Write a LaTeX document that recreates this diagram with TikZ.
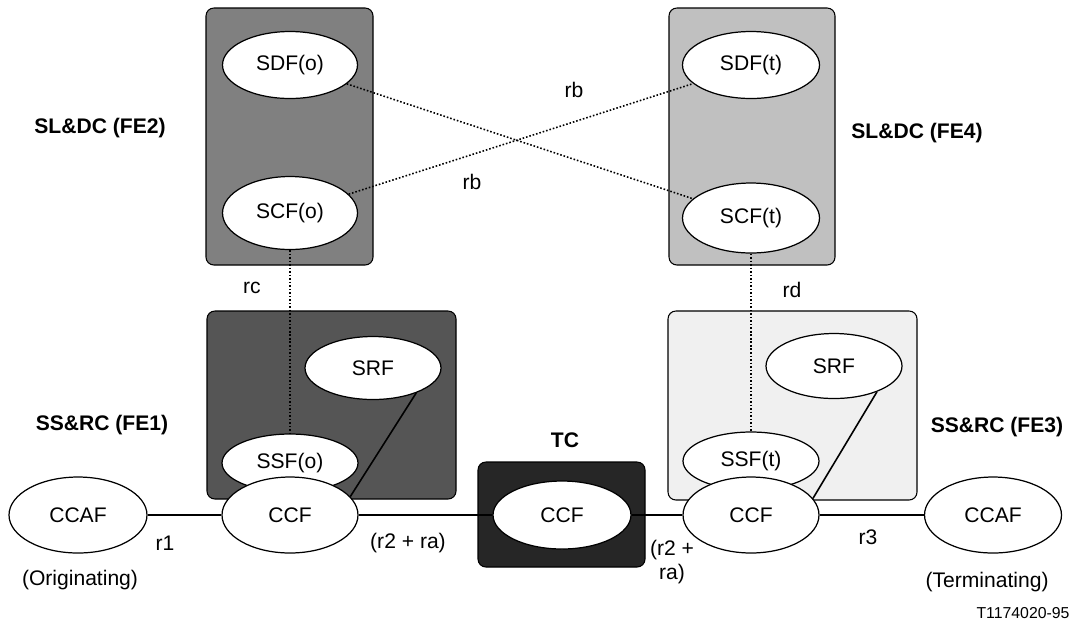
\documentclass[tikz,border=0pt]{standalone}
\usepackage{fontspec}
\setmainfont{Liberation Sans}
\usepackage{tikz}
\usetikzlibrary{shapes.geometric}
\usepackage{xcolor}

\definecolor{slo}{HTML}{808080}
\definecolor{slt}{HTML}{C0C0C0}
\definecolor{sso}{HTML}{555555}
\definecolor{sst}{HTML}{F0F0F0}
\definecolor{tcc}{HTML}{262626}

\tikzset{
  febox/.style={draw=black, line width=0.6pt, rounded corners=4.5pt},
  fn/.style={ellipse, draw, fill=white, line width=0.7pt, inner sep=0pt, font=\fontsize{12}{14}\selectfont},
  lbl/.style={font=\fontsize{12}{14}\selectfont, inner sep=0pt},
  hd/.style={font=\fontsize{12}{14}\selectfont\bfseries, inner sep=0pt},
  refpt/.style={line width=0.9pt, dash pattern=on 0.9pt off 1.1pt},
  link/.style={line width=0.9pt}
}

\begin{document}
\begin{tikzpicture}[x=0.02cm,y=-0.02cm]
 \useasboundingbox (0,0) rectangle (1074,630);
  % entity boxes
  \draw[febox,fill=slo] (206,8) rectangle (373,265);
  \draw[febox,fill=slt] (669,8) rectangle (835,265);
  \draw[febox,fill=sso] (207,311) rectangle (456,499);
  \draw[febox,fill=sst] (668,311) rectangle (917,500);
  \draw[febox,fill=tcc] (478,462) rectangle (645,567);

  % functional entities
  \node[fn,minimum width=2.7cm,minimum height=1.34cm] (SDFo) at (290,65) {SDF(o)};
  \node[fn,minimum width=2.7cm,minimum height=1.46cm] (SCFo) at (290,213) {SCF(o)};
  \node[fn,minimum width=2.74cm,minimum height=1.34cm] (SDFt) at (751,65) {SDF(t)};
  \node[fn,minimum width=2.74cm,minimum height=1.4cm] (SCFt) at (751,218) {SCF(t)};
  \node[fn,minimum width=2.72cm,minimum height=1.26cm] (SRFo) at (373,368) {SRF};
  \node[fn,minimum width=2.72cm,minimum height=1.3cm] (SRFt) at (834,366) {SRF};
  \node[fn,minimum width=2.72cm,minimum height=1.16cm] (SSFo) at (290,463) {SSF(o)};
  \node[fn,minimum width=2.72cm,minimum height=1.16cm] (SSFt) at (751,461) {SSF(t)};
  \node[fn,minimum width=2.72cm,minimum height=1.52cm] (CCFo) at (290,515) {CCF};
  \node[fn,minimum width=2.72cm,minimum height=1.52cm] (CCFt) at (751,515) {CCF};
  \node[fn,minimum width=2.76cm,minimum height=1.36cm] (CCFtc) at (562,515) {CCF};
  \node[fn,minimum width=2.76cm,minimum height=1.52cm] (CCAFo) at (78,515) {CCAF};
  \node[fn,minimum width=2.74cm,minimum height=1.52cm] (CCAFt) at (993,515) {CCAF};

  % relationships
  \draw[refpt] (SDFo) -- (SCFt);
  \draw[refpt] (SCFo) -- (SDFt);
  \draw[refpt] (SCFo) -- (SSFo);
  \draw[refpt] (SCFt) -- (SSFt);
  \draw[link] (SRFo.-30) -- (CCFo.17);
  \draw[link] (SRFt.-31) -- (CCFt.15);
  \draw[link] (CCAFo) -- (CCFo);
  \draw[link] (CCFo) -- (CCFtc);
  \draw[link] (CCFtc) -- (CCFt);
  \draw[link] (CCFt) -- (CCAFt);

  % labels
  \node[lbl] (rbt) at (574,90) {rb};
  \node[lbl] (rbb) at (472,182) {rb};
  \node[lbl] (rc) at (252,288) {rc};
  \node[lbl] (rd) at (792,290) {rd};
  \node[lbl] (rone) at (165,543) {r1};
  \node[lbl] (rtwo) at (408,543) {(r2 + ra)};
  \node[lbl,align=center] (rtwob) at (672,562) {(r2 +\\ra)};
  \node[lbl] (rthree) at (868,537) {r3};
  \node[lbl] (orig) at (80,580) {(Originating)};
  \node[lbl] (term) at (987,582) {(Terminating)};
  \node[font=\fontsize{9}{11}\selectfont,inner sep=0pt] (fig) at (1023,613) {T1174020-95};

  \node[hd] (fetwo) at (100,128) {SL\&DC (FE2)};
  \node[hd] (fefour) at (917,133) {SL\&DC (FE4)};
  \node[hd] (feone) at (102,425) {SS\&RC (FE1)};
  \node[hd] (fethree) at (997,427) {SS\&RC (FE3)};
  \node[hd] (tc) at (565,440) {TC};
\end{tikzpicture}
\end{document}
